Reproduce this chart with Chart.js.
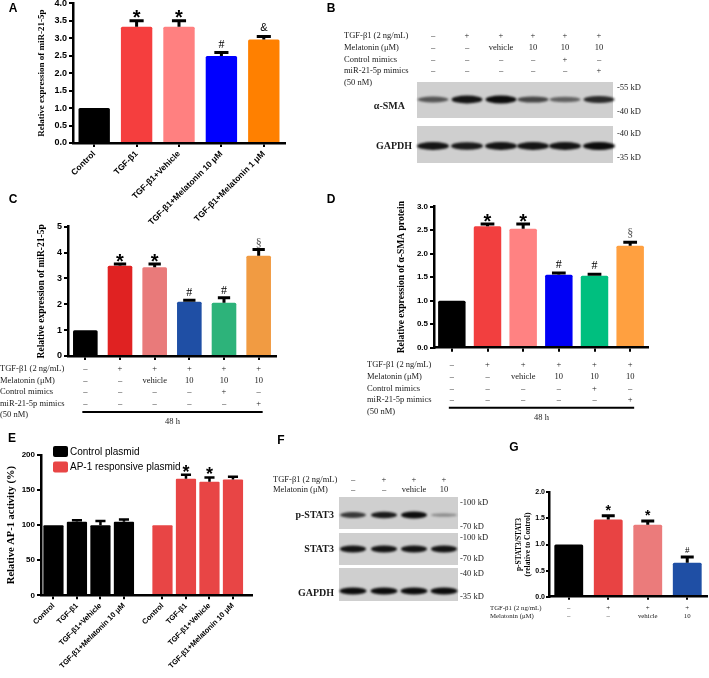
<!DOCTYPE html>
<html>
<head>
<meta charset="utf-8">
<script src="https://cdn.jsdelivr.net/npm/chart.js@4.4.0/dist/chart.umd.min.js"></script>
<style>
  body { margin: 0; background: #fff; }
  #fig { position: relative; width: 709px; height: 678px; overflow: hidden; background: #fff; }
  #fig canvas { position: absolute; }
  .t { position: absolute; white-space: nowrap; line-height: 1; color: #1a1a1a;
       font-family: "Liberation Serif", "Times New Roman", serif; font-size: 8.5px; }
</style>
</head>
<body>
<div id="fig">
  <canvas id="blots" width="709" height="678" style="left:0;top:0"></canvas>
  <canvas id="chartA" width="300" height="236" style="left:0;top:-6px"></canvas>
  <canvas id="chartC" width="290" height="225" style="left:0;top:205px"></canvas>
  <canvas id="chartD" width="379" height="235" style="left:330px;top:195px"></canvas>
  <canvas id="chartE" width="260" height="238" style="left:0;top:440px"></canvas>
  <canvas id="chartG" width="249" height="238" style="left:460px;top:440px"></canvas>
</div>
<script>
const SANS = '"Liberation Sans", Arial, sans-serif'
const SERIF = '"Liberation Serif", "Times New Roman", serif'

// ---- A: miR-21-5p, melatonin dose
const aLabels = ["Control", "TGF-β1", "TGF-β1+Vehicle", "TGF-β1+Melatonin 10 μM", "TGF-β1+Melatonin 1 μM"]
const aValues = [1.0, 3.33, 3.33, 2.49, 2.96]
const aErr = [null, 3.5, 3.5, 2.59, 3.05]
const aMarks = ["", "*", "*", "#", "&"]
const aColors = ["#000000", "#f53e3e", "#ff8080", "#0000ff", "#ff8000"]

// ---- treatment rows shared by B, C, D
const treatRows = ["TGF-β1 (2 ng/mL)", "Melatonin (μM)", "Control mimics", "miR-21-5p mimics", "(50 nM)"]
const treatVals = [
  ["–", "+", "+", "+", "+", "+"],
  ["–", "–", "vehicle", "10", "10", "10"],
  ["–", "–", "–", "–", "+", "–"],
  ["–", "–", "–", "–", "–", "+"],
]
const treatGroups = ["Control", "TGF-β1", "TGF-β1+vehicle", "TGF-β1+Mel", "TGF-β1+Mel+control mimics", "TGF-β1+Mel+miR-21-5p mimics"]
const treatTime = "48 h"

// ---- C: miR-21-5p with mimics
const cValues = [1.0, 3.49, 3.43, 2.1, 2.06, 3.88]
const cErr = [null, 3.56, 3.56, 2.16, 2.25, 4.12]
const cMarks = ["", "*", "*", "#", "#", "§"]
const cColors = ["#000000", "#e02222", "#e97a7a", "#1f4fa5", "#2db37a", "#f19b42"]

// ---- D: alpha-SMA protein
const dValues = [1.0, 2.58, 2.53, 1.55, 1.53, 2.17]
const dErr = [null, 2.63, 2.63, 1.59, 1.56, 2.24]
const dMarks = ["", "*", "*", "#", "#", "§"]
const dColors = ["#000000", "#f23f3f", "#ff8282", "#0000f5", "#00bf7f", "#ffa040"]

// ---- E: AP-1 activity
const eLabels = ["Control", "TGF-β1", "TGF-β1+Vehicle", "TGF-β1+Melatonin 10 μM"]
const eSeries = ["Control plasmid", "AP-1 responsive plasmid"]
const eControlPlasmid = [100, 105, 100, 105]
const eControlErr = [null, 107, 106, 108]
const eAP1 = [100, 166, 162, 165]
const eAP1Err = [null, 172, 168, 169]
const eAP1Marks = ["", "*", "*", ""]

// ---- G: p-STAT3/STAT3
const gGroups = ["Control", "TGF-β1", "TGF-β1+vehicle", "TGF-β1+Mel 10"]
const gValues = [1.0, 1.48, 1.38, 0.65]
const gErr = [null, 1.55, 1.45, 0.76]
const gMarks = ["", "*", "*", "#"]
const gColors = ["#000000", "#e84343", "#eb7b7b", "#1f4fa5"]
const gRows = ["TGF-β1 (2 ng/mL)", "Melatonin (μM)"]
const gVals = [["–", "+", "+", "+"], ["–", "–", "vehicle", "10"]]

// ---- blots (band darkness 0..1)
const bSMA = [0.5, 0.95, 1.0, 0.6, 0.42, 0.8]
const bGAPDH = [0.95, 0.9, 0.95, 0.95, 0.95, 1.0]
const bMarkers = ["-55 kD", "-40 kD", "-40 kD", "-35 kD"]
const fPSTAT3 = [0.7, 0.9, 1.0, 0.12]
const fSTAT3 = [0.95, 0.95, 0.95, 0.95]
const fGAPDH = [1.0, 1.0, 1.0, 1.0]
const fMarkers = ["-100 kD", "-70 kD", "-100 kD", "-70 kD", "-40 kD", "-35 kD"]

Chart.defaults.font.family = SANS

function yLinear(o) {
  const lh = o.titleSize * 1.2
  return {
    min: o.min, max: o.max,
    afterFit: s => { s.width = o.width },
    border: { color: "#000", width: 2.5, z: 1 },
    grid: { drawOnChartArea: false, color: "#000", lineWidth: 2, tickLength: o.tick || 4 },
    ticks: {
      stepSize: o.step, color: "#000", padding: o.pad == null ? 2 : o.pad,
      font: { family: SANS, weight: "bold", size: o.size },
      callback: v => o.fixed ? Number(v).toFixed(1) : v
    },
    title: {
      display: true, text: o.title, color: "#000",
      font: { family: SERIF, weight: "bold", size: o.titleSize, lineHeight: 1.2 },
      padding: { top: o.titleX - lh / 2, bottom: 0 }
    }
  }
}

function xCategory(o) {
  return {
    offset: true,
    afterFit: s => { s.height = o.height },
    border: { color: "#000", width: 2.5, z: 1 },
    grid: { offset: false, drawOnChartArea: false, color: "#000", lineWidth: 2, tickLength: o.tick || 4 },
    ticks: o.size
      ? { autoSkip: false, minRotation: 45, maxRotation: 45, padding: 2, color: "#000",
          font: { family: SANS, weight: "bold", size: o.size } }
      : { display: false }
  }
}

function errorBars(style) {
  return {
    id: "errorBars",
    afterDatasetsDraw(chart) {
      const ctx = chart.ctx
      const y = chart.scales.y
      chart.data.datasets.forEach((ds, di) => {
        chart.getDatasetMeta(di).data.forEach((bar, i) => {
          const top = ds.errTop ? ds.errTop[i] : null
          let yTop = bar.y
          if (top != null) {
            yTop = y.getPixelForValue(top)
            const half = bar.width * style.cap / 2
            ctx.save()
            ctx.strokeStyle = "#000"
            ctx.lineWidth = style.width
            ctx.beginPath()
            ctx.moveTo(bar.x, bar.y)
            ctx.lineTo(bar.x, yTop)
            ctx.moveTo(bar.x - half, yTop)
            ctx.lineTo(bar.x + half, yTop)
            ctx.stroke()
            ctx.restore()
          }
          const m = ds.marks ? ds.marks[i] : ""
          if (m) {
            const f = style.marks[m]
            ctx.save()
            ctx.fillStyle = f.color || "#000"
            ctx.font = f.font
            ctx.textAlign = "center"
            ctx.textBaseline = "alphabetic"
            ctx.fillText(m, bar.x, yTop + f.dy)
            ctx.restore()
          }
        })
      })
    }
  }
}

function treatmentTable(o) {
  return {
    id: "treatmentTable",
    afterDraw(chart) {
      const ctx = chart.ctx
      const x = chart.scales.x
      const bottom = chart.chartArea.bottom
      ctx.save()
      ctx.font = o.font
      ctx.fillStyle = "#1a1a1a"
      ctx.textBaseline = "middle"
      o.titles.forEach((t, r) => {
        const yy = bottom + o.first + r * o.gap
        ctx.textAlign = "left"
        ctx.fillText(t, o.titleX, yy)
        const row = o.values[r]
        if (!row) return
        ctx.textAlign = "center"
        row.forEach((v, i) => ctx.fillText(v, x.getPixelForValue(i), yy))
      })
      if (o.time) {
        const ly = bottom + o.lineY
        const x0 = x.getPixelForValue(0) - 3
        const x1 = x.getPixelForValue(o.values[0].length - 1) + 4
        ctx.strokeStyle = "#000"
        ctx.lineWidth = 2
        ctx.beginPath()
        ctx.moveTo(x0, ly)
        ctx.lineTo(x1, ly)
        ctx.stroke()
        ctx.textAlign = "center"
        ctx.fillText(o.time, (x0 + x1) / 2, ly + 10)
      }
      ctx.restore()
    }
  }
}

function boxLegend(o) {
  return {
    id: "boxLegend",
    afterDraw(chart) {
      const ctx = chart.ctx
      ctx.save()
      chart.data.datasets.forEach((ds, i) => {
        const yy = chart.chartArea.top + o.y0 + i * o.gap
        ctx.fillStyle = ds.backgroundColor
        ctx.beginPath()
        ctx.roundRect(o.x, yy - 5.5, 15, 11, 2)
        ctx.fill()
        ctx.fillStyle = "#000"
        ctx.font = o.font
        ctx.textAlign = "left"
        ctx.textBaseline = "middle"
        ctx.fillText(ds.label, o.x + 17, yy + 0.5)
      })
      ctx.restore()
    }
  }
}

const baseOptions = (padding) => ({
  responsive: false, animation: false, events: [],
  layout: { padding },
  plugins: { legend: { display: false }, tooltip: { enabled: false } }
})

const starFont = (px) => `bold ${px}px ${SANS}`
const serifFont = (px) => `${px}px ${SERIF}`

// A
new Chart(document.getElementById("chartA"), {
  type: "bar",
  data: { labels: aLabels, datasets: [{ data: aValues, backgroundColor: aColors, errTop: aErr, marks: aMarks,
    categoryPercentage: 1, barPercentage: 0.74, borderRadius: 1.5 }] },
  options: Object.assign(baseOptions({ left: 0, right: 15, top: 9.3, bottom: 0 }), {
    scales: {
      x: xCategory({ height: 87, size: 8.5 }),
      y: yLinear({ width: 73, min: 0, max: 4, step: 0.5, fixed: true, size: 9,
        title: "Relative expression of miR-21-5p", titleSize: 9, titleX: 42 })
    }
  }),
  plugins: [errorBars({ width: 3, cap: 0.45, marks: {
    "*": { font: starFont(20), dy: 3 },
    "#": { font: serifFont(12), dy: -5 },
    "&": { font: `11px ${SANS}`, dy: -5 }
  } })]
})

// C
new Chart(document.getElementById("chartC"), {
  type: "bar",
  data: { labels: treatGroups, datasets: [{ data: cValues, backgroundColor: cColors, errTop: cErr, marks: cMarks,
    categoryPercentage: 1, barPercentage: 0.71, borderRadius: 1.5 }] },
  options: Object.assign(baseOptions({ left: 0, right: 14, top: 21.7, bottom: 0 }), {
    scales: {
      x: xCategory({ height: 74 }),
      y: yLinear({ width: 68, min: 0, max: 5, step: 1, size: 9,
        title: "Relative expression of miR-21-5p", titleSize: 9.5, titleX: 42 })
    }
  }),
  plugins: [errorBars({ width: 3, cap: 0.5, marks: {
    "*": { font: starFont(20), dy: 4 },
    "#": { font: serifFont(12), dy: -4 },
    "§": { font: serifFont(12), dy: -2, color: "#555" }
  } }), treatmentTable({ titles: treatRows, values: treatVals, font: serifFont(8.5), titleX: 0,
    first: 13, gap: 11.5, lineY: 56, time: treatTime })]
})

// D
new Chart(document.getElementById("chartD"), {
  type: "bar",
  data: { labels: treatGroups, datasets: [{ data: dValues, backgroundColor: dColors, errTop: dErr, marks: dMarks,
    categoryPercentage: 1, barPercentage: 0.77, borderRadius: 1.5 }] },
  options: Object.assign(baseOptions({ left: 0, right: 61, top: 11.6, bottom: 0 }), {
    scales: {
      x: xCategory({ height: 82.3 }),
      y: yLinear({ width: 104, min: 0, max: 3, step: 0.5, fixed: true, size: 8,
        title: "Relative expression of α-SMA protein", titleSize: 9.5, titleX: 72 })
    }
  }),
  plugins: [errorBars({ width: 3, cap: 0.5, marks: {
    "*": { font: starFont(20), dy: 4 },
    "#": { font: serifFont(12), dy: -5 },
    "§": { font: serifFont(12), dy: -5, color: "#555" }
  } }), treatmentTable({ titles: treatRows, values: treatVals, font: serifFont(8.5), titleX: 37,
    first: 17, gap: 11.8, lineY: 60, time: treatTime })]
})

// E: two groups of bars on a linear axis, with a wider gap between the groups
const eGap = 1.64
const ePositions = eControlPlasmid.map((_, i) => i)
  .concat(eAP1.map((_, i) => i + eControlPlasmid.length - 1 + eGap))
const eTicks = eLabels.concat(eLabels)
new Chart(document.getElementById("chartE"), {
  type: "bar",
  data: { datasets: [
    { label: eSeries[0], backgroundColor: "#000000", errTop: eControlErr,
      data: eControlPlasmid.map((v, i) => ({ x: ePositions[i], y: v })) },
    { label: eSeries[1], backgroundColor: "#e84545", errTop: eAP1Err, marks: eAP1Marks,
      data: eAP1.map((v, i) => ({ x: ePositions[i + eControlPlasmid.length], y: v })) }
  ] },
  options: Object.assign(baseOptions({ left: 0, right: 8, top: 15, bottom: 0 }), {
    datasets: { bar: { grouped: false, categoryPercentage: 1, barPercentage: 0.86, borderRadius: 1 } },
    scales: {
      x: {
        type: "linear", min: -0.53, max: 8.45, offset: false,
        afterBuildTicks: s => { s.ticks = ePositions.map(v => ({ value: v })) },
        afterFit: s => { s.height = 82.7 },
        border: { color: "#000", width: 2.5, z: 1 },
        grid: { offset: false, drawOnChartArea: false, color: "#000", lineWidth: 2, tickLength: 4 },
        ticks: { autoSkip: false, minRotation: 45, maxRotation: 45, padding: 2, color: "#000",
          font: { family: SANS, weight: "bold", size: 7.5 },
          callback: (v, i) => eTicks[i] }
      },
      y: yLinear({ width: 41, min: 0, max: 200, step: 50, size: 8,
        title: "Relative AP-1 activity (%)", titleSize: 10.5, titleX: 11 })
    }
  }),
  plugins: [errorBars({ width: 2.5, cap: 0.5, marks: {
    "*": { font: starFont(18), dy: 3 }
  } }), boxLegend({ x: 53, y0: -3.5, gap: 15.5, font: `10px ${SANS}` })]
})

// G
new Chart(document.getElementById("chartG"), {
  type: "bar",
  data: { labels: gGroups, datasets: [{ data: gValues, backgroundColor: gColors, errTop: gErr, marks: gMarks,
    categoryPercentage: 1, barPercentage: 0.73, borderRadius: 1.5 }] },
  options: Object.assign(baseOptions({ left: 0, right: 2, top: 52.3, bottom: 0 }), {
    scales: {
      x: xCategory({ height: 81.3, tick: 3 }),
      y: yLinear({ width: 89, min: 0, max: 2, step: 0.5, fixed: true, size: 7, tick: 3, pad: 1,
        title: ["p-STAT3/STAT3", "(relative to Control)"], titleSize: 7.5, titleX: 59 })
    }
  }),
  plugins: [errorBars({ width: 3, cap: 0.45, marks: {
    "*": { font: starFont(14), dy: -1 },
    "#": { font: serifFont(9), dy: -4 }
  } }), treatmentTable({ titles: gRows, values: gVals, font: serifFont(6.8), titleX: 30,
    first: 11.5, gap: 8.5 })]
})

// ---- western blots (B, F)
const fig = document.getElementById("fig")
function label(text, x, y, o = {}) {
  const el = document.createElement("div")
  el.className = "t"
  el.textContent = text
  const ax = o.align === "center" ? "-50%" : o.align === "right" ? "-100%" : "0"
  el.style.left = x + "px"
  el.style.top = y + "px"
  el.style.transform = `translate(${ax}, -50%)`
  if (o.size) el.style.fontSize = o.size + "px"
  if (o.bold) el.style.fontWeight = "bold"
  if (o.sans) { el.style.fontFamily = SANS; el.style.color = "#000" }
  fig.appendChild(el)
}

const bctx = document.getElementById("blots").getContext("2d")
function drawBlot(box, lanes, bandY, bandW, bandH, levels) {
  bctx.fillStyle = "#cfcfcf"
  bctx.fillRect(box[0], box[1], box[2], box[3])
  levels.forEach((a, i) => {
    bctx.save()
    bctx.filter = "blur(1.3px)"
    bctx.fillStyle = `rgba(12,12,12,${0.25 + 0.75 * a})`
    bctx.beginPath()
    bctx.ellipse(lanes[i], bandY, bandW / 2, (bandH / 2) * (0.45 + 0.55 * a), 0, 0, Math.PI * 2)
    bctx.fill()
    bctx.restore()
  })
}

const bLanes = [433, 467, 501, 533, 565, 599]
drawBlot([417, 82, 196, 36], bLanes, 99.5, 31, 8, bSMA)
drawBlot([417, 126, 196, 37], bLanes, 146, 32, 8, bGAPDH)
treatRows.forEach((t, r) => label(t, 344, 35 + r * 11.75))
treatVals.forEach((row, r) => row.forEach((v, i) => label(v, bLanes[i], 35 + r * 11.75, { align: "center" })))
label("α-SMA", 405, 106, { align: "right", bold: true, size: 10 })
label("GAPDH", 412, 146, { align: "right", bold: true, size: 10 })
;[87, 111, 133, 157].forEach((y, i) => label(bMarkers[i], 617, y))

const fLanes = [353, 384, 414, 444]
drawBlot([339, 497, 119, 32], fLanes, 515, 26, 7, fPSTAT3)
drawBlot([339, 533, 119, 32], fLanes, 549, 26, 7, fSTAT3)
drawBlot([339, 568, 119, 33], fLanes, 591, 27, 7, fGAPDH)
gRows.forEach((t, r) => label(t, 273, 479 + r * 10))
gVals.forEach((row, r) => row.forEach((v, i) => label(v, fLanes[i], 479 + r * 10, { align: "center" })))
label("p-STAT3", 334, 515, { align: "right", bold: true, size: 10 })
label("STAT3", 334, 549, { align: "right", bold: true, size: 10 })
label("GAPDH", 334, 593, { align: "right", bold: true, size: 10 })
;[502, 526, 537, 558, 573, 596].forEach((y, i) => label(fMarkers[i], 460, y))

// panel letters
;[["A", 13, 8], ["B", 331, 8], ["C", 13, 199], ["D", 331, 199], ["E", 12, 438], ["F", 281, 440], ["G", 514, 447]]
  .forEach(([t, x, y]) => label(t, x, y, { align: "center", bold: true, sans: true, size: 12 }))
</script>
</body>
</html>
